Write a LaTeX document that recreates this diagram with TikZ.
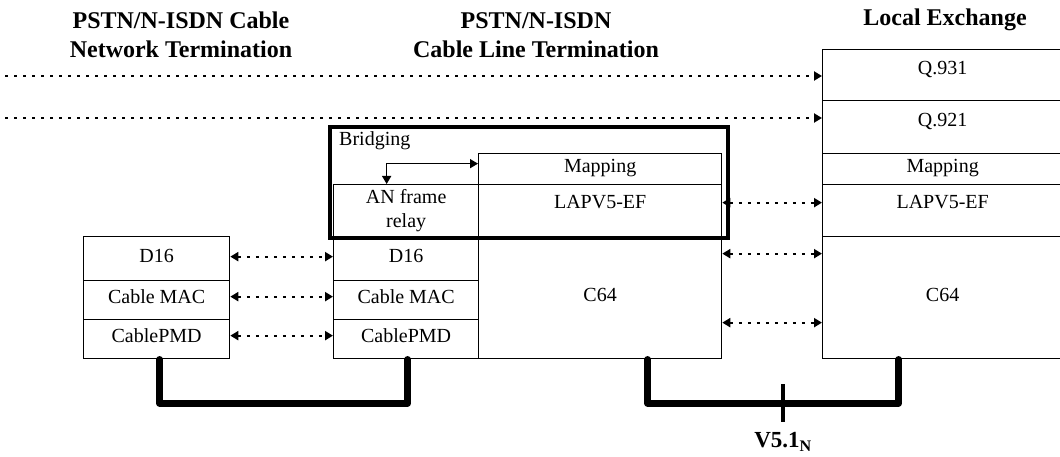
\documentclass[tikz,border=0pt]{standalone}
\usepackage{fontspec}
\setmainfont{Liberation Serif}
\usetikzlibrary{arrows.meta,calc}
\begin{document}
\begin{tikzpicture}[x=1pt,y=-1pt,
  cell/.style={draw=black, line width=1.3pt, inner sep=0pt, anchor=north west,
    font=\fontsize{20}{24}\selectfont, align=center},
  ctext/.style={text height=13pt, text depth=#1},
  ctext/.default=6pt,
  title/.style={font=\bfseries\fontsize{24}{28.5}\selectfont, align=center, inner sep=0pt},
  dotarr/.style={line width=2pt, dash pattern=on 3pt off 6pt,
    -{Triangle[length=8pt,width=9pt]}},
  dotbi/.style={line width=2pt, dash pattern=on 3pt off 6pt,
    {Triangle[length=8pt,width=9pt]}-{Triangle[length=8pt,width=9pt]}},
  bridgearr/.style={line width=1.5pt,
    {Triangle[length=8pt,width=9pt]}-{Triangle[length=8pt,width=9pt]}},
  bridgebox/.style={draw=black, line width=4pt, inner sep=0pt, anchor=north west},
  cable/.style={line width=6.5pt, line cap=round, line join=round},
  tickline/.style={line width=3.5pt},
  lbl/.style={font=\fontsize{20}{24}\selectfont, inner sep=0pt}
]
\path[use as bounding box] (0,0) rectangle (1060,457);
\clip (0,0) rectangle (1060,457);

% titles
\node[title] (t1) at (181,35) {PSTN/N-ISDN Cable\\Network Termination};
\node[title] (t2) at (536,35) {PSTN/N-ISDN\\Cable Line Termination};
\node[title] (t3) at (945,19.5) {Local Exchange};

% Network termination stack
\node[cell, ctext, minimum width=146pt, minimum height=44pt] (ntd16) at (83,236) {D16};
\node[cell, ctext, minimum width=146pt, minimum height=39pt] (ntmac) at (83,280) {Cable MAC};
\node[cell, ctext, minimum width=146pt, minimum height=39pt] (ntpmd) at (83,319) {CablePMD};

% Line termination stack
\node[cell, minimum width=145pt, minimum height=52pt] (anfr) at (333,184) {AN frame\\relay};
\node[cell, ctext, minimum width=145pt, minimum height=44pt] (ltd16) at (333,236) {D16};
\node[cell, ctext, minimum width=145pt, minimum height=39pt] (ltmac) at (333,280) {Cable MAC};
\node[cell, ctext, minimum width=145pt, minimum height=39pt] (ltpmd) at (333,319) {CablePMD};
\node[cell, ctext, minimum width=243pt, minimum height=31pt] (ltmap) at (478,153) {Mapping};
\node[cell, ctext=18pt, minimum width=243pt, minimum height=52pt] (ltlap) at (478,184) {LAPV5-EF};
\node[cell, ctext, minimum width=243pt, minimum height=122pt] (ltc64) at (478,236) {C64};

% Local exchange stack
\node[cell, ctext=15pt, minimum width=240pt, minimum height=51pt] (q931) at (822,49) {Q.931};
\node[cell, ctext=15pt, minimum width=240pt, minimum height=53pt] (q921) at (822,100) {Q.921};
\node[cell, ctext, minimum width=240pt, minimum height=31pt] (lemap) at (822,153) {Mapping};
\node[cell, ctext=18pt, minimum width=240pt, minimum height=52pt] (lelap) at (822,184) {LAPV5-EF};
\node[cell, ctext, minimum width=240pt, minimum height=122pt] (lec64) at (822,236) {C64};

% Bridging box
\node[bridgebox, minimum width=398pt, minimum height=111pt] (bridging) at (328,125) {};
\node[lbl, anchor=base west] (bridginglbl) at (339,146) {Bridging};
\draw[bridgearr] ([xshift=-19.5pt]anfr.north) |- ([yshift=5.5pt]ltmap.west);

% peer-to-peer dotted arrows
\coordinate (s1) at (5,76);
\coordinate (s2) at (5,118);
\draw[dotarr] (s1) -- (s1 -| q931.west);
\draw[dotarr] (s2) -- (s2 -| q921.west);
\draw[dotbi] ([yshift=2pt]ntd16.east) -- ([yshift=2pt]ltd16.west);
\draw[dotbi] ([yshift=3.5pt]ntmac.east) -- ([yshift=3.5pt]ltmac.west);
\draw[dotbi] ([yshift=3.5pt]ntpmd.east) -- ([yshift=3.5pt]ltpmd.west);
\draw[dotbi] ([yshift=8pt]ltlap.east) -- ([yshift=8pt]lelap.west);
\draw[dotbi] ([yshift=44pt]ltc64.east) -- ([yshift=44pt]lec64.west);
\draw[dotbi] ([yshift=-25pt]ltc64.east) -- ([yshift=-25pt]lec64.west);

% physical links
\draw[cable] ([xshift=3pt]ntpmd.south) -- ++(0,44) -| ([xshift=1.5pt]ltpmd.south);
\draw[cable] ([xshift=47.5pt]ltc64.south) -- ++(0,44) -| ([xshift=-44pt]lec64.south);
\coordinate (tk) at (783,384);
\draw[tickline] (tk) -- ++(0,38);
\node[anchor=base, inner sep=0pt, font=\bfseries\fontsize{23}{27}\selectfont] (v5) at (783,447.5) {V5.1\textsubscript{N}};
\end{tikzpicture}
\end{document}
